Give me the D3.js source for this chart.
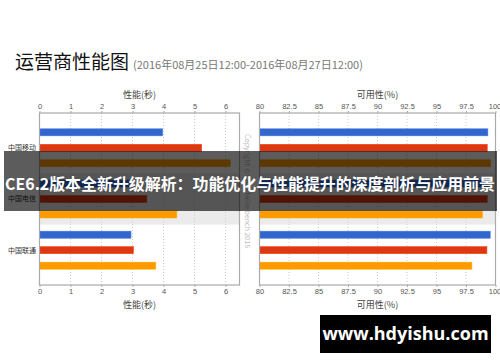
<!DOCTYPE html>
<html>
<head>
<meta charset="utf-8">
<script src="https://cdn.jsdelivr.net/npm/d3@7"></script>
<style>
  body { margin: 0; background: #fff; }
  svg { display: block; font-family: "Noto Sans CJK SC", "Noto Sans", sans-serif; }
  .tick text { fill: #555; font-size: 7.5px; font-family: "Liberation Sans", Arial, sans-serif; }
  .axis-title { fill: #444; font-size: 9px; }
</style>
</head>
<body>
<div id="chart"></div>
<script>
const categories = ["中国移动", "中国电信", "中国联通"];
const seriesKeys = ["s1", "s2", "s3"];
const perfS1 = [3.97, 2.9, 2.95];
const perfS2 = [5.23, 3.46, 3.03];
const perfS3 = [6.15, 4.43, 3.75];
const availS1 = [99.35, 99.4, 99.55];
const availS2 = [99.3, 99.3, 99.27];
const availS3 = [99.6, 98.9, 98.0];
const perfTicks = [0, 1, 2, 3, 4, 5, 6];
const availTicks = [80, 82.5, 85, 87.5, 90, 92.5, 95, 97.5, 100];
const highlighted = "中国电信";

const W = 500, H = 362;
const plotTop = 113, plotBottom = 285;
const colors = { s1: "#3366cc", s2: "#dc3912", s3: "#ff9900" };

const svg = d3.select("#chart").append("svg")
  .attr("width", W).attr("height", H);

// title
svg.append("text")
  .attr("x", 15).attr("y", 69)
  .attr("font-size", 19).attr("fill", "#111")
  .text("运营商性能图");
svg.append("text")
  .attr("x", 133).attr("y", 69)
  .attr("font-size", 11).attr("fill", "#777")
  .text("(2016年08月25日12:00-2016年08月27日12:00)");

const y = d3.scaleBand().domain(categories).range([plotTop, plotBottom]).paddingOuter(0.18).paddingInner(0);
const ySub = d3.scaleBand().domain(seriesKeys).range([0, y.bandwidth()]).paddingInner(0.548).paddingOuter(0.427);

function rows(a, b, c) {
  return categories.map((cat, i) => ({ cat, s1: a[i], s2: b[i], s3: c[i] }));
}

function panel(x, data, ticks, fmt, title, showLabels) {
  const [x0, x1] = x.range();
  const g = svg.append("g");

  // highlight band
  g.append("rect")
    .attr("x", x0).attr("y", y(highlighted))
    .attr("width", x1 - x0).attr("height", y.bandwidth())
    .attr("fill", "#ebebeb");

  // grid
  g.append("g").selectAll("line")
    .data(ticks.slice(1))
    .join("line")
    .attr("x1", d => x(d)).attr("x2", d => x(d))
    .attr("y1", plotTop).attr("y2", plotBottom)
    .attr("stroke", "#ccc").attr("stroke-dasharray", "1,2");

  // bars
  g.append("g").selectAll("g")
    .data(data)
    .join("g")
    .attr("transform", d => `translate(0,${y(d.cat)})`)
    .selectAll("rect")
    .data(d => seriesKeys.map(k => ({ key: k, value: d[k] })))
    .join("rect")
    .attr("x", x0)
    .attr("y", d => ySub(d.key))
    .attr("width", d => x(d.value) - x0)
    .attr("height", ySub.bandwidth())
    .attr("fill", d => colors[d.key])
    .attr("stroke", d => d3.color(colors[d.key]).brighter(0.4))
    .attr("stroke-width", 0.6);

  // frame
  g.append("rect")
    .attr("x", x0).attr("y", plotTop)
    .attr("width", x1 - x0).attr("height", plotBottom - plotTop)
    .attr("fill", "none").attr("stroke", "#aaa").attr("stroke-width", 1.2);

  // axes
  const fixLast = a => a.selectAll(".tick text")
    .filter(d => x(d) > 490).attr("text-anchor", "end").attr("dx", "0.7em");
  g.append("g")
    .attr("transform", `translate(0,${plotTop})`)
    .call(d3.axisTop(x).tickValues(ticks).tickFormat(fmt).tickSize(2).tickPadding(2))
    .call(a => a.select(".domain").remove())
    .call(a => a.selectAll("line").attr("stroke", "#aaa"))
    .call(fixLast);
  g.append("g")
    .attr("transform", `translate(0,${plotBottom})`)
    .call(d3.axisBottom(x).tickValues(ticks).tickFormat(fmt).tickSize(2).tickPadding(2))
    .call(a => a.select(".domain").remove())
    .call(a => a.selectAll("line").attr("stroke", "#aaa"))
    .call(fixLast);

  const cx = (x0 + x1) / 2;
  g.append("text").attr("class", "axis-title")
    .attr("x", cx).attr("y", 98).attr("text-anchor", "middle").text(title);
  g.append("text").attr("class", "axis-title")
    .attr("x", cx).attr("y", 308).attr("text-anchor", "middle").text(title);

  if (showLabels) {
    g.append("g").selectAll("text")
      .data(categories)
      .join("text")
      .attr("x", 36)
      .attr("y", d => y(d) + y.bandwidth() / 2)
      .attr("dy", "0.35em")
      .attr("text-anchor", "end")
      .attr("font-size", 7)
      .attr("fill", "#333")
      .text(d => d);
  }
}

const xPerf = d3.scaleLinear().domain([0, 6.45]).range([39.5, 239.5]);
const xAvail = d3.scaleLinear().domain([80, 100]).range([259.5, 495.5]);

panel(xPerf, rows(perfS1, perfS2, perfS3), perfTicks, d3.format("d"), "性能(秒)", true);
panel(xAvail, rows(availS1, availS2, availS3), availTicks, d => String(d), "可用性(%)", false);

// vertical copyright
svg.append("text")
  .attr("transform", "translate(245,191) rotate(90)")
  .attr("text-anchor", "middle")
  .attr("font-size", 7).attr("fill", "#bbb")
  .text("Copyright © Cloudwise bench 2015");

// banner overlay
svg.append("rect")
  .attr("x", 4).attr("y", 151).attr("width", 493).attr("height", 60)
  .attr("fill", "rgba(0,0,0,0.64)");
svg.append("text")
  .attr("x", 250).attr("y", 184).attr("dy", "0.35em")
  .attr("text-anchor", "middle")
  .attr("font-size", 16).attr("font-weight", "bold").attr("fill", "#fff")
  .attr("textLength", 490).attr("lengthAdjust", "spacingAndGlyphs")
  .text("CE6.2版本全新升级解析：功能优化与性能提升的深度剖析与应用前景");

// site badge
svg.append("rect")
  .attr("x", 320).attr("y", 315).attr("width", 171).attr("height", 38)
  .attr("fill", "#000");
svg.append("text")
  .attr("x", 405.5).attr("y", 334).attr("dy", "0.35em")
  .attr("text-anchor", "middle")
  .attr("font-size", 18).attr("font-weight", "bold").attr("fill", "#fff")
  .attr("font-family", "'Open Sans', 'Noto Sans', sans-serif")
  .text("www.hdyishu.com");
</script>
</body>
</html>
